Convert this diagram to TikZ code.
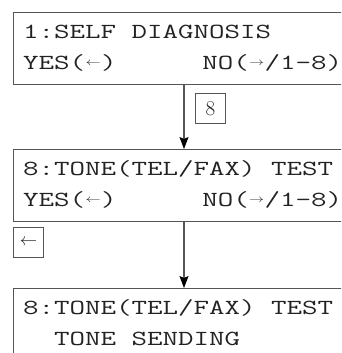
\documentclass[tikz,border=0pt]{standalone}
\usepackage{graphicx}
\usetikzlibrary{arrows.meta}
\definecolor{edge}{HTML}{555555}
\definecolor{ink}{HTML}{222222}
\newcommand\lcdtext[1]{\scalebox{1.4}[1]{\fontsize{21.5}{21.5}\selectfont\ttfamily #1}}
\newcommand\lar{\makebox[0.525em][c]{\raisebox{0.18em}{\resizebox{0.5em}{!}{$\leftarrow$}}}}
\newcommand\rar{\makebox[0.525em][c]{\raisebox{0.18em}{\resizebox{0.5em}{!}{$\rightarrow$}}}}
\tikzset{
  lcdbox/.style={draw=edge, line width=1.1pt, minimum width=380pt, minimum height=72pt, anchor=north west, inner sep=0pt},
  lcdline/.style={anchor=base west, inner sep=0pt, text=ink},
  keybox/.style={draw=edge, line width=1pt, minimum width=30pt, minimum height=30pt, inner sep=0pt, anchor=north west, text=ink},
  flow/.style={draw=edge, line width=1.1pt, -{Stealth[length=12pt,width=9pt,inset=2pt,color=black]}}
}
\begin{document}
\begin{tikzpicture}[x=1pt,y=-1pt]
\useasboundingbox (0,0) rectangle (341,353);
\clip (0,0) rectangle (341,353);
\node[lcdbox] (b1) at (13,12) {};
\node[lcdbox] (b2) at (13,149) {};
\node[lcdbox] (b3) at (13,288) {};
\node[lcdline] (t11) at (23,38) {\lcdtext{1:SELF~DIAGNOSIS}};
\node[lcdline] (t12) at (23,69) {\lcdtext{YES(\lar)~~~~~~\hspace{-0.24em}NO(\rar/1-8)}};
\node[lcdline] (t21) at (23,175) {\lcdtext{8:TONE(TEL/FAX)~TEST}};
\node[lcdline] (t22) at (23,206) {\lcdtext{YES(\lar)~~~~~~\hspace{-0.24em}NO(\rar/1-8)}};
\node[lcdline] (t31) at (23,314) {\lcdtext{8:TONE(TEL/FAX)~TEST}};
\node[lcdline] (t32) at (23,345) {\lcdtext{~~TONE~SENDING}};
\coordinate (v) at (184,0);
\draw[flow] (b1.south -| v) -- (b2.north -| v);
\draw[flow] (b2.south -| v) -- (b3.north -| v);
\node[keybox] (k8) at (195,93) {\fontsize{21}{21}\selectfont 8};
\node[keybox] (kl) at (13,227) {\fontsize{19}{19}\selectfont$\leftarrow$};
\end{tikzpicture}
\end{document}
